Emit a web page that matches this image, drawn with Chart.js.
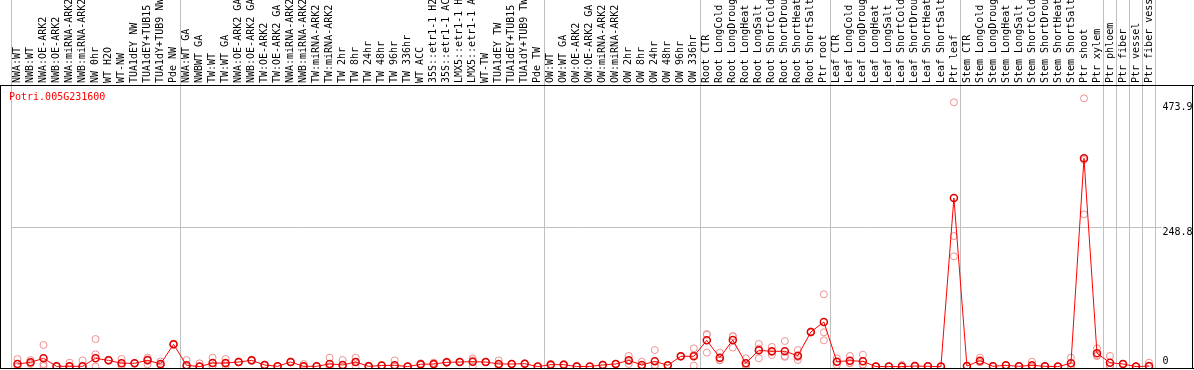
<!DOCTYPE html>
<html>
<head>
<meta charset="utf-8">
<script src="https://cdn.jsdelivr.net/npm/chart.js@4.4.0/dist/chart.umd.min.js"></script>
<style>
html, body { margin: 0; padding: 0; background: #ffffff; }
#wrap { width: 1194px; height: 370px; }
</style>
</head>
<body>
<div id="wrap"><canvas id="c" width="1194" height="370"></canvas></div>
<script>
const geneId = 'Potri.005G231600';

const categories = [
  'NWA:WT', 'NWB:WT', 'NWA:OE-ARK2', 'NWB:OE-ARK2', 'NWA:miRNA-ARK2', 'NWB:miRNA-ARK2',
  'NW 0hr', 'WT H2O', 'WT-NW', 'TUA1dEY NW', 'TUA1dEY+TUB15 NW', 'TUA1dY+TUB9 NW', 'Pde NW',
  'NWA:WT GA', 'NWBWT GA', 'TW:WT', 'TW:WT GA', 'NWA:OE-ARK2 GA', 'NWB:OE-ARK2 GA',
  'TW:OE-ARK2', 'TW:OE-ARK2 GA', 'NWA:miRNA-ARK2', 'NWB:miRNA-ARK2', 'TW:miRNA-ARK2', 'TW:miRNA-ARK2',
  'TW 2hr', 'TW 8hr', 'TW 24hr', 'TW 48hr', 'TW 96hr', 'TW 336hr', 'WT ACC',
  '35S::etr1-1 H2O', '35S::etr1-1 ACC', 'LMX5::etr1-1 H2O', 'LMX5::etr1-1 ACC', 'WT-TW',
  'TUA1dEY TW', 'TUA1dEY+TUB15 TW', 'TUA1dY+TUB9 TW', 'Pde TW',
  'OW:WT', 'OW:WT GA', 'OW:OE-ARK2', 'OW:OE-ARK2 GA', 'OW:miRNA-ARK2', 'OW:miRNA-ARK2',
  'OW 2hr', 'OW 8hr', 'OW 24hr', 'OW 48hr', 'OW 96hr', 'OW 336hr',
  'Root CTR', 'Root LongCold', 'Root LongDrought', 'Root LongHeat', 'Root LongSalt',
  'Root ShortCold', 'Root ShortDrought', 'Root ShortHeat', 'Root ShortSalt', 'Ptr root',
  'Leaf CTR', 'Leaf LongCold', 'Leaf LongDrought', 'Leaf LongHeat', 'Leaf LongSalt',
  'Leaf ShortCold', 'Leaf ShortDrought', 'Leaf ShortHeat', 'Leaf ShortSalt', 'Ptr leaf',
  'Stem CTR', 'Stem LongCold', 'Stem LongDrought', 'Stem LongHeat', 'Stem LongSalt',
  'Stem ShortCold', 'Stem ShortDrought', 'Stem ShortHeat', 'Stem ShortSalt', 'Ptr shoot',
  'Ptr xylem', 'Ptr phloem', 'Ptr fiber', 'Ptr vessel', 'Ptr fiber vessel'
];

// mean expression (line + dark red circles)
const meanValues = [
  4.7, 7.7, 14.8, 0.5, 0.5, 0.5, 14.8, 11.2, 5.9, 5.9, 11.2, 4.7, 39.9,
  2.3, 0, 6.4, 6.4, 8.2, 11.2, 2.9, 0.5, 8.2, 0.5, 0.5, 4.7, 2.9, 8.2, 0.5, 2, 2.3, 0,
  4.1, 4.7, 7.6, 8.2, 8.8, 8.2, 4.7, 4.7, 5.3, 0,
  3.5, 3.5, 0, 0.3, 2.9, 4.7, 11.2, 2.9, 9.4, 2.3, 18.4, 18.4,
  47, 16, 47.6, 5.9, 29.2, 27.4, 27.4, 19.5, 62, 79.9,
  8.8, 10.6, 9.4, 0, 0, 0, 1, 0.5, 0, 302,
  1, 10.6, 0.5, 2.3, 0.5, 2.3, 0.5, 0, 5.9, 373, 23.8,
  7, 4.7, 0, 1
];

// individual replicates (light pink circles)
const rep1 = [
  13.6, 11.8, 38.7, 0.5, 7, 11.2, 49.4, 12, 13.6, 6.5, 16, 9, 41,
  11.8, 5.9, 16, 13.6, 9, 12, 2, 0.5, 8, 4.7, 1, 16, 11.8, 16, 2, 2.5, 11.2, 0.5,
  6, 7, 9, 8.5, 11.2, 8.5, 11.2, 5, 6, 0,
  5, 4.5, 1.5, 0, 3, 5, 19, 8.8, 29.7, 2.5, 19, 32.7,
  58.4, 25, 54.8, 14.8, 40.5, 35.2, 45.8, 29.7, 63, 129.5,
  14.8, 19, 21.3, 0, 0, 2.9, 1.5, 0.5, 0, 473.3,
  1, 16, 0.5, 2.5, 0.5, 8.8, 0.5, 0, 16, 480.5, 32.7,
  19, 5, 0, 7
];
const rep2 = [
  0.3, 4.7, 4.7, 0.8, 0, 0, 22, 10.5, 2, 5.5, 4, 2, 39,
  0, 0, 1, 1, 8, 10, 3.5, 0.3, 9, 0, 0, 0, 0, 0.5, 0, 1.5, 0, 0,
  3, 3, 7, 8, 0.5, 8, 1, 4.5, 5, 0,
  2, 3, 0, 0, 2, 4.5, 4.7, 0, 2.9, 2, 18, 1.7,
  57, 11.8, 54, 0, 14.8, 20.8, 19, 11.8, 61, 61.4,
  2.9, 6, 3.5, 0, 0.3, 0, 0.5, 0.5, 0, 233.9,
  1, 8, 0.5, 2, 0.5, 0, 0.5, 0, 1, 370, 19,
  1, 4.5, 0, 0
];
const rep3 = [
  0.2, 6.6, 1, 0.2, 0, 0, 0, 11, 2, 5.8, 13, 3, 40,
  0, 0, 2, 4.7, 7.5, 11, 3, 0.8, 7.5, 0, 0.5, 0, 0, 8, 0, 2, 0, 0,
  3.5, 4, 7, 8, 14.7, 8, 2, 4.7, 5, 0,
  3.5, 3, 0, 0.3, 3.5, 4.7, 10, 0, 0, 2.5, 18, 20.8,
  25, 11.2, 34, 3, 32.3, 26.2, 17.4, 17, 62, 47,
  8.7, 6.8, 3.4, 0.5, 0, 0, 1, 0.5, 0, 197.5,
  1, 7.8, 0.5, 2.3, 0.5, 0, 0.5, 0, 0.7, 272.7, 19.7,
  1, 4.7, 0, 0
];

const yTickValues = [0, 248.8, 473.9];
const groupStarts = [0, 13, 41, 53, 63, 73, 84, 85, 86, 87];

const MONO = '"DejaVu Sans Mono", "Liberation Mono", monospace';

const framePlugin = {
  id: 'frame',
  afterDraw(chart) {
    const { ctx, chartArea: a, width } = chart;
    ctx.save();
    ctx.strokeStyle = '#000000';
    ctx.lineWidth = 1;
    ctx.beginPath();
    ctx.moveTo(0, Math.round(a.top) + 0.5); ctx.lineTo(width, Math.round(a.top) + 0.5);
    ctx.moveTo(0, Math.round(a.bottom) - 0.5); ctx.lineTo(width, Math.round(a.bottom) - 0.5);
    ctx.moveTo(0.5, a.top); ctx.lineTo(0.5, a.bottom);
    ctx.moveTo(width - 1.5, a.top); ctx.lineTo(width - 1.5, a.bottom);
    ctx.stroke();
    ctx.fillStyle = '#ff0000';
    ctx.font = '10px ' + MONO;
    ctx.textBaseline = 'middle';
    ctx.textAlign = 'left';
    ctx.fillText(geneId, 9, a.top + 12);
    ctx.restore();
  }
};

const repStyle = {
  showLine: false,
  pointRadius: 3.5,
  pointBorderWidth: 1,
  pointBorderColor: '#ee9090',
  pointBackgroundColor: 'rgba(0,0,0,0)'
};

new Chart(document.getElementById('c'), {
  type: 'line',
  data: {
    labels: categories,
    datasets: [
      {
        label: 'mean',
        data: meanValues,
        borderColor: '#ff0000',
        borderWidth: 1,
        tension: 0,
        pointRadius: 3.5,
        pointBorderWidth: 1.5,
        pointBorderColor: '#e00000',
        pointBackgroundColor: 'rgba(0,0,0,0)'
      },
      Object.assign({ label: 'rep1', data: rep1 }, repStyle),
      Object.assign({ label: 'rep2', data: rep2 }, repStyle),
      Object.assign({ label: 'rep3', data: rep3 }, repStyle)
    ]
  },
  options: {
    responsive: false,
    devicePixelRatio: 1,
    animation: false,
    layout: { autoPadding: false, padding: { left: 11, right: 0, top: 0, bottom: 1.5 } },
    plugins: { legend: { display: false }, tooltip: { enabled: false }, title: { display: false } },
    scales: {
      x: {
        type: 'category',
        position: 'top',
        offset: true,
        border: { display: false },
        grid: {
          offset: true,
          drawTicks: true,
          tickLength: 85,
          lineWidth: 1,
          color: (ctx) => (ctx.index === undefined || groupStarts.includes(ctx.index)) ? '#c0c0c0' : 'rgba(0,0,0,0)'
        },
        ticks: {
          autoSkip: false,
          minRotation: 90,
          maxRotation: 90,
          padding: -83,
          labelOffset: 12,
          color: '#000000',
          font: { family: MONO, size: 10 }
        },
        afterFit: (s) => { s.height = 85; s.paddingLeft = 0; s.paddingRight = 0; }
      },
      y: {
        position: 'right',
        min: -3.4,
        max: 504.3,
        border: { display: false },
        afterBuildTicks: (s) => { s.ticks = yTickValues.map(v => ({ value: v })); },
        afterFit: (s) => { s.width = 38.5; s.paddingTop = 0; s.paddingBottom = 0; },
        grid: {
          drawTicks: true,
          tickLength: 6,
          color: (ctx) => (ctx.tick && ctx.tick.value === 248.8) ? '#c0c0c0' : 'rgba(0,0,0,0)'
        },
        ticks: {
          padding: 1,
          color: '#000000',
          font: { family: MONO, size: 10, lineHeight: 1 },
          callback: (v) => v === 0 ? ['0', ''] : ['', v.toFixed(1)]
        }
      }
    }
  },
  plugins: [framePlugin]
});
</script>
</body>
</html>
